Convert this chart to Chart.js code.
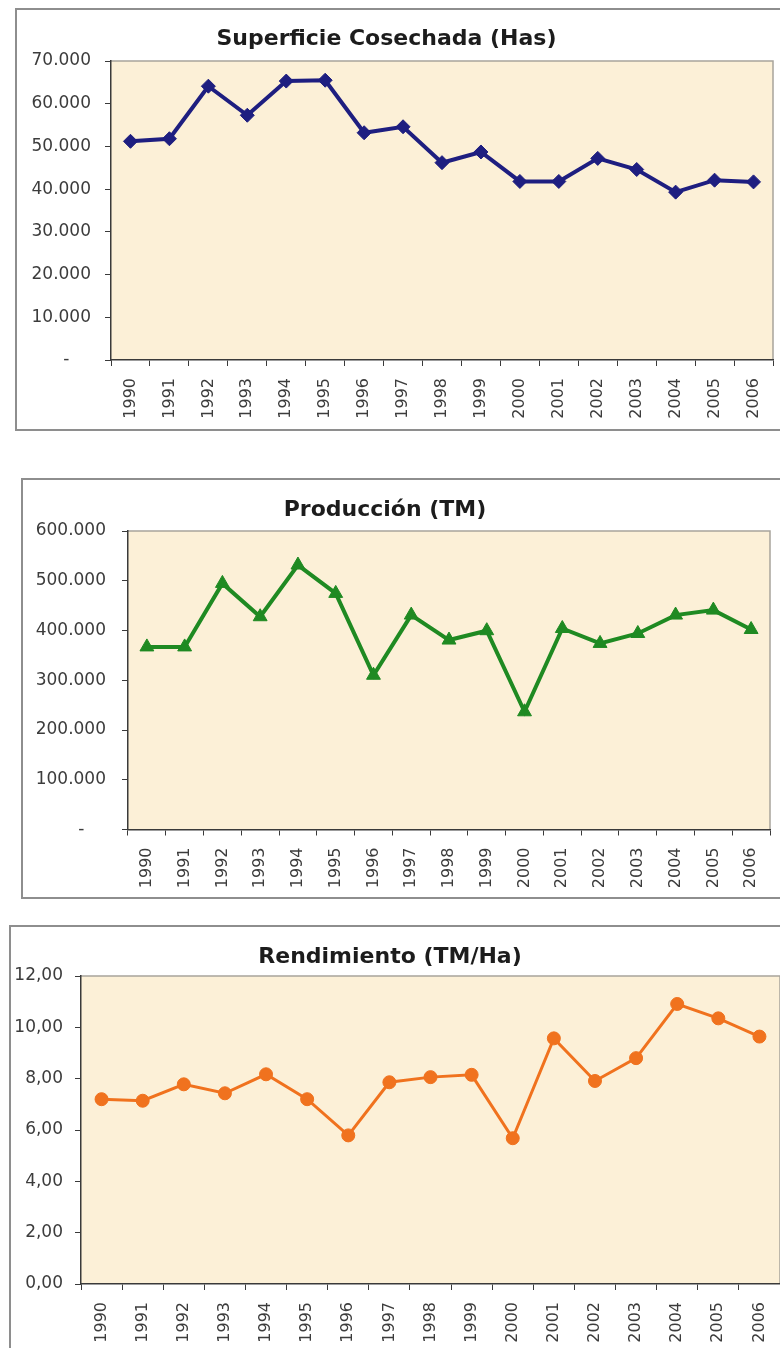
<!DOCTYPE html>
<html>
<head>
<meta charset="utf-8">
<script src="https://cdn.jsdelivr.net/npm/chart.js@4.4.1/dist/chart.umd.min.js"></script>
<style>
  html, body { margin: 0; padding: 0; background: #fff; }
  body { width: 780px; height: 1348px; overflow: hidden; position: relative; }
  .frame { position: absolute; border: 2px solid #8e8e8e; width: 820px; }
  canvas { position: absolute; left: 0; }
</style>
</head>
<body>
<div class="frame" style="left:15px; top:8px; height:419px;"></div>
<div class="frame" style="left:21px; top:478px; height:417px;"></div>
<div class="frame" style="left:9px; top:925px; height:480px;"></div>

<canvas id="chartSup" width="800" height="440" style="top:0px;"></canvas>
<canvas id="chartProd" width="800" height="440" style="top:470px;"></canvas>
<canvas id="chartRend" width="800" height="433" style="top:915px;"></canvas>

<script>
// Años (eje X común)
const years = ["1990", "1991", "1992", "1993", "1994", "1995", "1996", "1997", "1998",
  "1999", "2000", "2001", "2002", "2003", "2004", "2005", "2006"];

// Superficie cosechada (Has)
const superficie = [51200, 51800, 64100, 57300, 65300, 65500, 53200, 54600, 46200,
  48700, 41800, 41800, 47200, 44600, 39300, 42100, 41700];

// Producción (TM)
const produccion = [367000, 367000, 494700, 427700, 531600, 474600, 310000, 431000, 380800,
  399600, 236600, 404000, 374000, 394000, 431000, 441000, 402000];

// Rendimiento (TM/Ha)
const rendimiento = [7.20, 7.14, 7.78, 7.43, 8.17, 7.20, 5.79, 7.86, 8.06,
  8.15, 5.68, 9.57, 7.91, 8.80, 10.91, 10.35, 9.64];

const FONT = "'DejaVu Sans', 'Liberation Sans', Arial, sans-serif";

// miles con punto, cero como guion (formato contable)
function fmtMiles(v) {
  if (v === 0) return "-    ";
  return String(v).replace(/\B(?=(\d{3})+(?!\d))/g, ".");
}
function fmtDecimal(v) {
  return v.toFixed(2).replace(".", ",");
}

// fondo beige del área de trazado
const plotBg = {
  id: "plotBg",
  beforeDraw(chart) {
    const { ctx, chartArea: a } = chart;
    ctx.save();
    ctx.fillStyle = "#fcf0d7";
    ctx.fillRect(a.left, a.top, a.right - a.left, a.bottom - a.top);
    ctx.strokeStyle = "#a8a49c";
    ctx.lineWidth = 1.5;
    ctx.beginPath();
    ctx.moveTo(a.left, a.top);
    ctx.lineTo(a.right, a.top);
    ctx.lineTo(a.right, a.bottom);
    ctx.stroke();
    ctx.restore();
  },
};

function makeChart(id, cfg) {
  const ctx = document.getElementById(id);
  return new Chart(ctx, {
    type: "line",
    data: {
      labels: years,
      datasets: [
        {
          data: cfg.data,
          borderColor: cfg.color,
          backgroundColor: cfg.color,
          borderWidth: cfg.lineWidth,
          pointStyle: cfg.pointStyle,
          pointRadius: cfg.pointRadius,
          pointBorderWidth: 1,
          tension: 0,
          fill: false,
        },
      ],
    },
    options: {
      responsive: false,
      animation: false,
      layout: { padding: { left: 0, right: cfg.padRight, top: 0, bottom: 0 } },
      plugins: {
        legend: { display: false },
        tooltip: { enabled: false },
        title: {
          display: true,
          text: cfg.title,
          color: "#1c1c1c",
          font: { family: FONT, size: 22, weight: "bold" },
          padding: { top: cfg.titleTop, bottom: cfg.titleBottom },
        },
      },
      scales: {
        x: {
          offset: true,
          afterFit: (scale) => { scale.height = cfg.xHeight; },
          border: { display: true, color: "#3a3a3a", width: 1.5 },
          grid: { offset: true, drawOnChartArea: false, drawTicks: true, tickLength: 6, color: "#3a3a3a" },
          ticks: {
            autoSkip: false,
            maxRotation: 90,
            minRotation: 90,
            padding: 12,
            color: "#3c3c3c",
            font: { family: FONT, size: 16 },
          },
        },
        y: {
          min: 0,
          max: cfg.max,
          afterFit: (scale) => { scale.width = cfg.yWidth; },
          border: { display: true, color: "#3a3a3a", width: 1.5 },
          grid: { drawOnChartArea: false, drawTicks: true, tickLength: 6, color: "#3a3a3a" },
          ticks: {
            stepSize: cfg.step,
            padding: cfg.yPad,
            color: "#3c3c3c",
            font: { family: FONT, size: 17 },
            callback: cfg.fmt,
          },
        },
      },
    },
    plugins: [plotBg],
  });
}

makeChart("chartSup", {
  title: "Superficie Cosechada (Has)",
  data: superficie,
  color: "#1e1e80",
  lineWidth: 4,
  pointStyle: "rectRot",
  pointRadius: 7,
  max: 70000,
  step: 10000,
  fmt: fmtMiles,
  yWidth: 111,
  yPad: 14,
  xHeight: 80,
  padRight: 27,
  titleTop: 26,
  titleBottom: 8.6,
});

makeChart("chartProd", {
  title: "Producción (TM)",
  data: produccion,
  color: "#1f8a22",
  lineWidth: 4,
  pointStyle: "triangle",
  pointRadius: 8,
  max: 600000,
  step: 100000,
  fmt: fmtMiles,
  yWidth: 128,
  yPad: 16,
  xHeight: 80.5,
  padRight: 30,
  titleTop: 27,
  titleBottom: 7.6,
});

makeChart("chartRend", {
  title: "Rendimiento (TM/Ha)",
  data: rendimiento,
  color: "#f0721e",
  lineWidth: 3,
  pointStyle: "circle",
  pointRadius: 6.5,
  max: 12,
  step: 2,
  fmt: fmtDecimal,
  yWidth: 81,
  yPad: 12,
  xHeight: 64,
  padRight: 20,
  titleTop: 29,
  titleBottom: 5.6,
});
</script>
</body>
</html>
